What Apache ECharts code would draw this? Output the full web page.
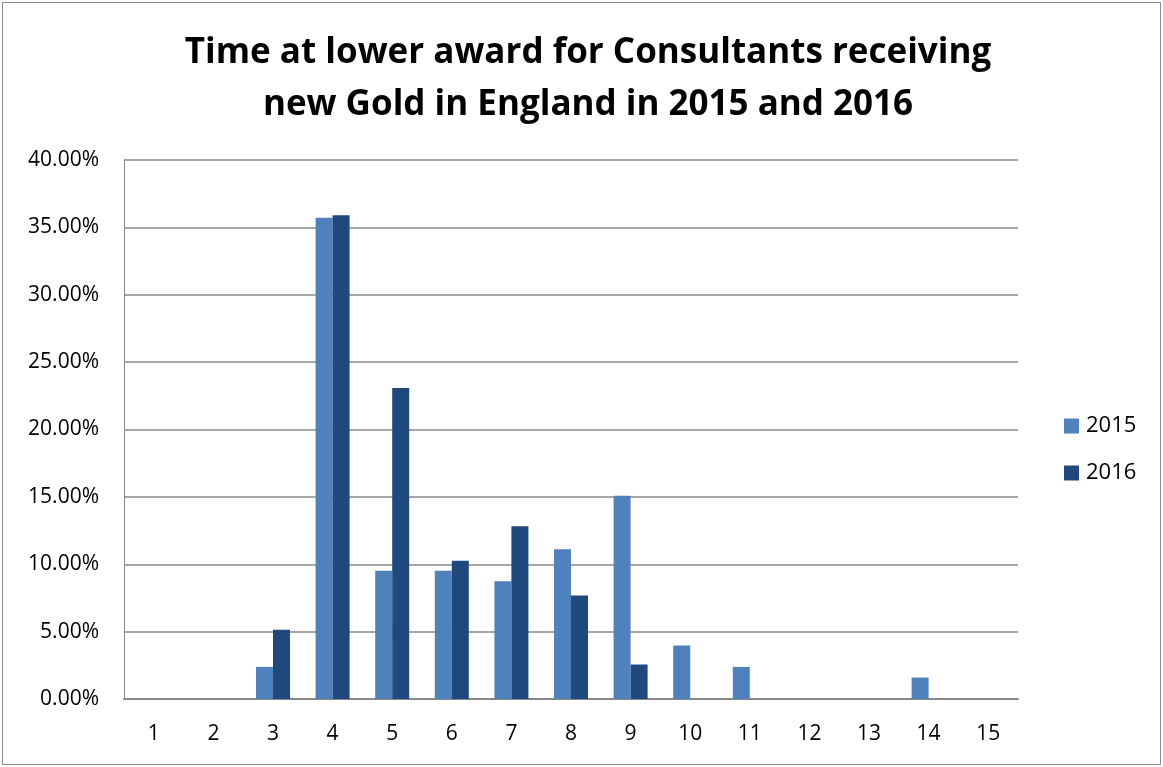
<!DOCTYPE html>
<html>
<head>
<meta charset="utf-8">
<script src="https://cdn.jsdelivr.net/npm/echarts@6/dist/echarts.min.js"></script>
<style>
  html, body { margin: 0; padding: 0; background: #fff; }
  #frame { position: absolute; left: 2px; top: 2px; width: 1157px; height: 761px; border: 1px solid #8c8c8c; }
  #chart { position: absolute; left: 0; top: 0; width: 1163px; height: 767px; }
</style>
</head>
<body>
<div id="frame"></div>
<div id="chart"></div>
<script>
// Years spent at the lower award before a new Gold award
const categories = ['1','2','3','4','5','6','7','8','9','10','11','12','13','14','15'];
const series2015 = [0, 0, 2.38, 35.71, 9.52, 9.52, 8.73, 11.11, 15.08, 3.97, 2.38, 0, 0, 1.59, 0];
const series2016 = [0, 0, 5.13, 35.90, 23.08, 10.26, 12.82, 7.69, 2.56, 0, 0, 0, 0, 0, 0];
const seriesNames = ['2015', '2016'];
const titleLines = ['Time at lower award for Consultants receiving', 'new Gold in England in 2015 and 2016'];

const font = 'Open Sans, Liberation Sans, sans-serif';
const chart = echarts.init(document.getElementById('chart'), null, { renderer: 'canvas' });

chart.setOption({
  animation: false,
  backgroundColor: 'transparent',
  title: {
    text: titleLines.join('\n'),
    left: 583,
    top: 22,
    textAlign: 'center',
    textStyle: { fontFamily: font, fontWeight: 'bold', fontSize: 35, lineHeight: 52, color: '#000' }
  },
  legend: {
    orient: 'vertical',
    left: 1059,
    top: 410,
    itemWidth: 15,
    itemHeight: 15,
    itemGap: 25,
    icon: 'rect',
    textStyle: { fontFamily: font, fontSize: 22, color: '#000', padding: [0, 0, 0, 2] },
    data: seriesNames
  },
  grid: { left: 124, right: 145, top: 160, bottom: 68, containLabel: false },
  xAxis: {
    type: 'category',
    data: categories,
    axisLine: { lineStyle: { color: '#888', width: 2 } },
    axisTick: { show: false },
    axisLabel: { fontFamily: font, fontSize: 21, color: '#000', margin: 25 }
  },
  yAxis: {
    type: 'value',
    min: 0,
    max: 40,
    interval: 5,
    axisLine: { show: true, lineStyle: { color: '#888', width: 1 } },
    axisTick: { show: false },
    splitLine: { lineStyle: { color: '#888', width: 1.5 } },
    axisLabel: {
      fontFamily: font, fontSize: 21, color: '#000', margin: 25,
      formatter: v => v.toFixed(2) + '%'
    }
  },
  series: [
    {
      name: seriesNames[0], type: 'bar', data: series2015,
      barWidth: 17, barGap: '0%',
      itemStyle: { color: '#4F81BD' }
    },
    {
      name: seriesNames[1], type: 'bar', data: series2016,
      barWidth: 17,
      itemStyle: { color: '#1F497D' }
    }
  ]
});
</script>
</body>
</html>
